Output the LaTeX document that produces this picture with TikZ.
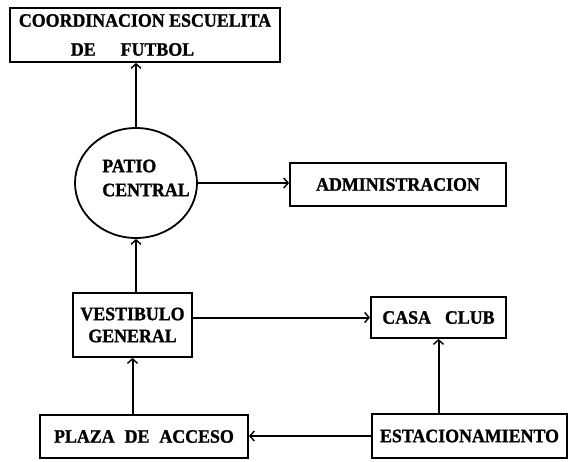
\documentclass[tikz,border=0pt]{standalone}
\usepackage{fontspec}
\setmainfont{Liberation Serif}[FakeStretch=0.94,BoldFeatures={FakeBold=1.2}]
\usetikzlibrary{arrows.meta,shapes.geometric}
\begin{document}
\begin{tikzpicture}[x=1pt,y=-1pt,
  box/.style={draw,line width=1.8pt,inner sep=0pt,font=\bfseries\fontsize{19}{22}\selectfont},
  lbl/.style={inner sep=0pt,font=\bfseries\fontsize{19}{24}\selectfont},
  conn/.style={line width=2pt,-{Straight Barb[length=4.5pt,width=10pt,line width=1.4pt]}}]
\useasboundingbox[fill=white] (0,0) rectangle (569,461);
\node[box,minimum width=270pt,minimum height=54pt,align=left,font=\bfseries\fontsize{19}{29}\selectfont] (top) at (145,35) {COORDINACION ESCUELITA\\\hspace*{52pt}DE\hspace{25pt}FUTBOL};
\node[draw,line width=1.8pt,ellipse,inner sep=0pt,minimum width=122pt,minimum height=110pt] (patio) at (136,183) {};
\node[lbl,align=left] (patiolbl) at (146,178) {PATIO\\CENTRAL};
\node[box,minimum width=216pt,minimum height=43pt] (admin) at (398,184.5) {ADMINISTRACION};
\node[box,minimum width=119pt,minimum height=64pt,align=center] (vest) at (132.5,325) {VESTIBULO\\GENERAL};
\node[box,minimum width=135pt,minimum height=41pt] (casa) at (438.5,317.5) {CASA\hspace{14pt}CLUB};
\node[box,minimum width=208pt,minimum height=43pt] (plaza) at (144,436.5) {PLAZA\hspace{10pt}DE\hspace{10pt}ACCESO};
\node[box,minimum width=195pt,minimum height=44pt] (estac) at (469.5,436) {ESTACIONAMIENTO};
\draw[conn] (patio.north) -- (top.south -| patio.north);
\draw[conn] (patio.east) -- (admin.west |- patio.east);
\draw[conn] (vest.north -| patio.south) -- (patio.south);
\draw[conn] (vest.east |- casa.west) -- (casa.west);
\draw[conn] (plaza.north -| vest.south) -- (vest.south);
\draw[conn] (estac.west) -- (plaza.east |- estac.west);
\draw[conn] (estac.north -| casa.south) -- (casa.south);
\end{tikzpicture}
\end{document}
